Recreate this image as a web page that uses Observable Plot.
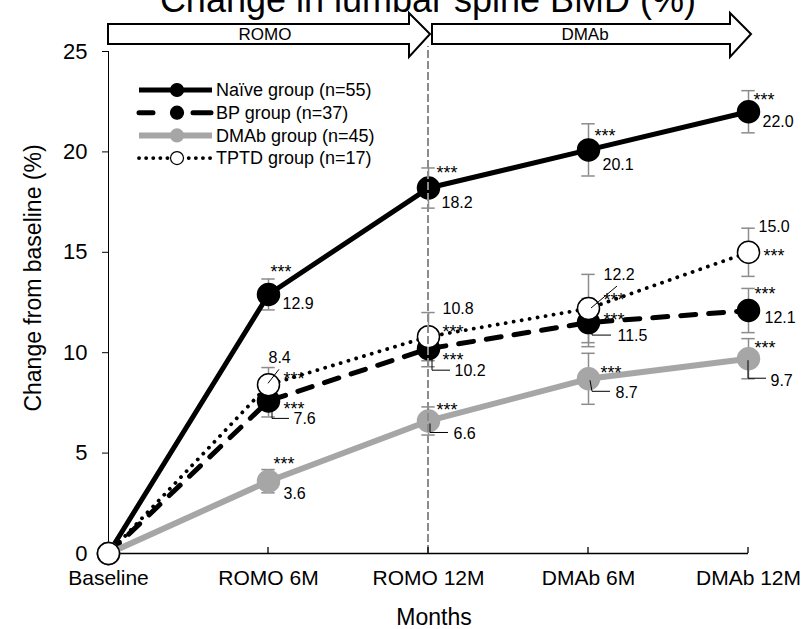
<!DOCTYPE html>
<html>
<head>
<meta charset="utf-8">
<script src="https://cdn.jsdelivr.net/npm/d3@7"></script>
<script src="https://cdn.jsdelivr.net/npm/@observablehq/plot@0.6"></script>
<style>
  html, body { margin: 0; padding: 0; background: #fff; }
  #chart svg { display: block; }
</style>
</head>
<body>
<div id="chart"></div>
<script>
// ---------------- data ----------------
const title = "Change in lumbar spine BMD (%)";
const categories = ["Baseline", "ROMO 6M", "ROMO 12M", "DMAb 6M", "DMAb 12M"];
const groupNames = ["Naïve group (n=55)", "BP group (n=37)", "DMAb group (n=45)", "TPTD group (n=17)"];
const naive = [0, 12.9, 18.2, 20.1, 22.0];
const bp    = [0, 7.6, 10.2, 11.5, 12.1];
const dmab  = [0, 3.6, 6.6, 8.7, 9.7];
const tptd  = [0, 8.4, 10.8, 12.2, 15.0];
const naiveErr = [0, 0.77, 1.0, 1.3, 1.05];
const bpErr    = [0, 0.8, 0.9, 1.2, 1.1];
const dmabErr  = [0, 0.58, 0.7, 1.27, 1.0];
const tptdErr  = [0, 0.86, 1.2, 1.7, 1.2];
const significance = "***";
const yTicks = [0, 5, 10, 15, 20, 25];
const xTicks = [0, 1, 2, 3, 4];
const phases = [
  {label: "ROMO", from: 0, to: 2, center: 1},
  {label: "DMAb", from: 2, to: 4, center: 3}
];
const yLabel = "Change from baseline (%)";
const xLabel = "Months";

// ---------------- styles / layout ----------------
const FONT = "'Liberation Sans', Arial, Helvetica, sans-serif";
const GRAY = "#a6a6a6";
const ERR = "#8c8c8c";
const seriesStyles = [
  {stroke: "#000", width: 5,   dash: null,     cap: "butt",  dotFill: "#000", dotStroke: "#000", legendDash: null},
  {stroke: "#000", width: 5,   dash: "15,13",  cap: "round", dotFill: "#000", dotStroke: "#000", legendDash: "14,40,18"},
  {stroke: GRAY,   width: 6,   dash: null,     cap: "butt",  dotFill: GRAY,   dotStroke: GRAY,   legendDash: null},
  {stroke: "#000", width: 3.8, dash: "0.1,8",  cap: "round", dotFill: "#fff", dotStroke: "#000", legendDash: "0.1,7"}
];
// label offsets in px: [dx (text start), dy (visual centre)]
const valueOffsets = [
  [null, [14, 9],  [13, 15], [14, 15], [14, 10]],
  [null, [25, 18], [26, 22], [29, 13], [16, 7]],
  [null, [15, 13], [25, 13], [27, 14], [22, 22]],
  [null, [0, -27], [14, -28], [15, -34], [10, -25]]
];
const starOffsets = [
  [null, [2, -27], [8, -20], [6, -19], [5, -17]],
  [null, [15, 3],  [14, 7],  [15, -7], [6, -21]],
  [null, [5, -22], [8, -16], [12, -11], [6, -15]],
  [null, [15, -11], [14, -9], [15, -13], [15, -1]]
];
const leaders = [
  {s: 1, i: 1, pts: [[4, 11], [4, 18], [21, 18]]},
  {s: 1, i: 2, pts: [[4, 10], [4, 22], [22, 22]]},
  {s: 1, i: 3, pts: [[4, 8], [4, 13], [23, 13]]},
  {s: 2, i: 2, pts: [[2, 3], [2, 12], [20, 12]]},
  {s: 2, i: 3, pts: [[2, 2], [4, 13], [22, 13]]},
  {s: 2, i: 4, pts: [[0, 2], [0, 20], [18, 20]]},
  {s: 3, i: 1, pts: [[0, -1], [11, -15]]},
  {s: 3, i: 3, pts: [[3, 0], [29, -22]]}
];

const allValues = [naive, bp, dmab, tptd];
const allErrs = [naiveErr, bpErr, dmabErr, tptdErr];
const rows = allValues.flatMap((vals, s) => vals.map((v, i) => ({s, i, v, e: allErrs[s][i]})));
const errRows = rows.filter(d => d.i > 0);
const capHalf = 0.042; // in category units

const marks = [];
// axis lines
marks.push(Plot.ruleX([0], {y1: 0, y2: 25, stroke: "#000", strokeWidth: 1}));
marks.push(Plot.ruleY([0], {stroke: "#000", strokeWidth: 1.3}));
marks.push(Plot.axisY({ticks: yTicks, tickSize: 6, tickPadding: 15, fontSize: 22, label: null, fill: "#000"}));
marks.push(Plot.axisX({ticks: xTicks, tickFormat: i => categories[i], tickSize: 0, tickPadding: 17, fontSize: 21, label: null, fill: "#000"}));

// error bars
marks.push(Plot.ruleX(errRows, {x: "i", y1: d => d.v - d.e, y2: d => d.v + d.e, stroke: ERR, strokeWidth: 1.5}));
marks.push(Plot.ruleY(errRows, {y: d => d.v + d.e, x1: d => d.i - capHalf, x2: d => d.i + capHalf, stroke: ERR, strokeWidth: 1.5}));
marks.push(Plot.ruleY(errRows, {y: d => d.v - d.e, x1: d => d.i - capHalf, x2: d => d.i + capHalf, stroke: ERR, strokeWidth: 1.5}));

// series lines and markers
seriesStyles.forEach((st, s) => {
  const data = rows.filter(d => d.s === s);
  marks.push(Plot.line(data, {x: "i", y: "v", stroke: st.stroke, strokeWidth: st.width,
    strokeDasharray: st.dash, strokeLinecap: st.cap, strokeLinejoin: "round"}));
  marks.push(Plot.dot(data, {x: "i", y: "v", r: 11, fill: st.dotFill, stroke: st.dotStroke, strokeWidth: 1.5}));
});

// decorations (separator, phase arrows, ticks, leaders, legend, title)
marks.push((index, scales, values, dims) => {
  const x = scales.x, y = scales.y;
  const g = d3.create("svg:g").attr("font-family", FONT).attr("fill", "#000");
  const top = dims.marginTop;
  // dashed separator
  g.append("line")
    .attr("x1", x(2)).attr("x2", x(2)).attr("y1", y(0)).attr("y2", top - 5)
    .attr("stroke", ERR).attr("stroke-width", 2).attr("stroke-dasharray", "8,3");
  // upward x ticks
  xTicks.slice(1).forEach(t => {
    g.append("line").attr("x1", x(t)).attr("x2", x(t)).attr("y1", y(0)).attr("y2", y(0) - 6)
      .attr("stroke", "#000").attr("stroke-width", 1.3);
  });
  // phase arrows
  const bodyT = top - 27, bodyB = top - 7, headT = top - 38, headB = top + 6, mid = (bodyT + bodyB) / 2;
  phases.forEach((p, k) => {
    const x0 = x(p.from) + (k === 0 ? 0 : 4);
    const tip = x(p.to) + (k === 0 ? 2 : 3);
    const hb = tip - 21;
    g.append("path")
      .attr("d", `M${x0},${bodyT}L${hb},${bodyT}L${hb},${headT}L${tip},${mid}L${hb},${headB}L${hb},${bodyB}L${x0},${bodyB}Z`)
      .attr("fill", "#fff").attr("stroke", "#000").attr("stroke-width", 2).attr("stroke-linejoin", "miter");
    g.append("text").attr("x", x(p.center) - 3).attr("y", mid).attr("dy", "0.35em")
      .attr("text-anchor", "middle").attr("font-size", 17).text(p.label);
  });
  // leader lines
  leaders.forEach(l => {
    const px = x(l.i), py = y(allValues[l.s][l.i]);
    g.append("path")
      .attr("d", "M" + l.pts.map(([dx, dy]) => `${px + dx},${py + dy}`).join("L"))
      .attr("fill", "none").attr("stroke", "#000").attr("stroke-width", 1);
  });
  // legend
  const lx0 = 139, lx1 = 212, lmx = 177, ly0 = 90, lstep = 22.7;
  groupNames.forEach((name, k) => {
    const st = seriesStyles[k];
    const ly = ly0 + k * lstep;
    const ln = g.append("line").attr("x1", lx0).attr("x2", lx1).attr("y1", ly).attr("y2", ly)
      .attr("stroke", st.stroke).attr("stroke-width", st.width).attr("stroke-linecap", st.cap);
    if (st.legendDash) ln.attr("stroke-dasharray", st.legendDash);
    g.append("circle").attr("cx", lmx).attr("cy", ly).attr("r", 6.5)
      .attr("fill", st.dotFill).attr("stroke", st.dotStroke).attr("stroke-width", 1.2);
    g.append("text").attr("x", 216).attr("y", ly).attr("dy", "0.35em")
      .attr("text-anchor", "start").attr("font-size", 18).text(name);
  });
  // title (partly above the page edge)
  g.append("text").attr("x", x(2)).attr("y", 12).attr("text-anchor", "middle")
    .attr("font-size", 36).text(title);
  // axis titles
  g.append("text").attr("transform", `translate(33,278) rotate(-90)`).attr("dy", "0.35em")
    .attr("text-anchor", "middle").attr("font-size", 23).text(yLabel);
  g.append("text").attr("x", x(2) + 6).attr("y", 617).attr("dy", "0.35em")
    .attr("text-anchor", "middle").attr("font-size", 23).text(xLabel);
  return g.node();
});

// value labels and significance stars
errRows.forEach(d => {
  const vo = valueOffsets[d.s][d.i];
  const so = starOffsets[d.s][d.i];
  marks.push(Plot.text([d], {x: "i", y: "v", text: r => r.v.toFixed(1), dx: vo[0], dy: vo[1],
    textAnchor: "start", fontSize: 16, fill: "#000"}));
  marks.push(Plot.text([d], {x: "i", y: "v", text: () => significance, dx: so[0], dy: so[1] + 5,
    textAnchor: "start", fontSize: 18, fill: "#000"}));
});

const chart = Plot.plot({
  width: 807,
  height: 629,
  marginLeft: 108,
  marginRight: 59,
  marginTop: 51,
  marginBottom: 76,
  x: {type: "linear", domain: [0, 4]},
  y: {type: "linear", domain: [0, 25]},
  style: {fontFamily: FONT, background: "#fff", color: "#000", overflow: "visible"},
  marks
});
document.getElementById("chart").appendChild(chart);
</script>
</body>
</html>
